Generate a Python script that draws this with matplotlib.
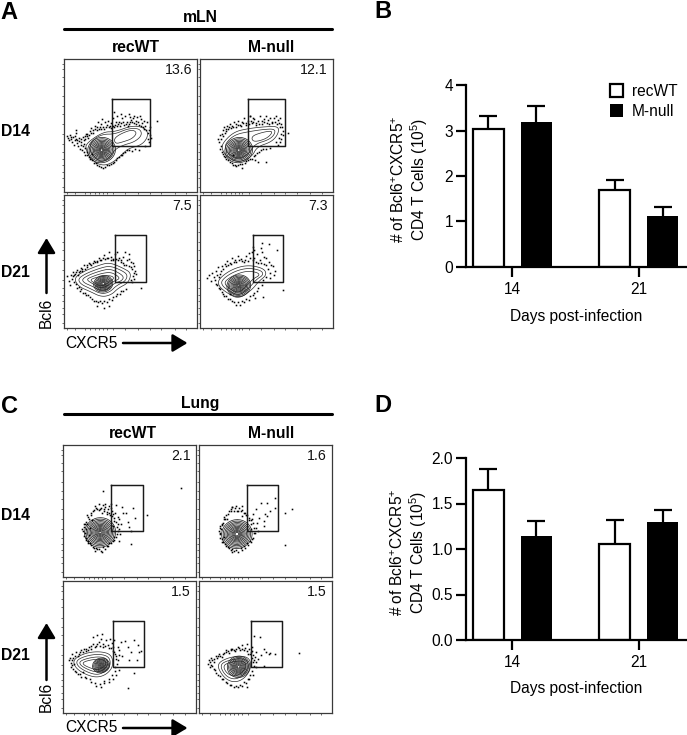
#!/usr/bin/env python3
import numpy as np
import matplotlib
matplotlib.use("Agg")
import matplotlib.pyplot as plt
from matplotlib.patches import Ellipse, FancyArrowPatch, Polygon

plt.rcParams["font.family"] = ["Liberation Sans", "DejaVu Sans"]
plt.rcParams["mathtext.fontset"] = "custom"
plt.rcParams["mathtext.rm"] = "Liberation Sans"
plt.rcParams["mathtext.default"] = "regular"

W, H = 687, 735

# Bar charts, B = mLN, D = lung
DAYS = ["14", "21"]
B_WT = [3.03, 1.70]
B_WT_ERR = [0.30, 0.22]
B_NULL = [3.18, 1.12]
B_NULL_ERR = [0.36, 0.20]
D_WT = [1.645, 1.05]
D_WT_ERR = [0.235, 0.27]
D_NULL = [1.147, 1.293]
D_NULL_ERR = [0.163, 0.137]

# Flow plots: channel units 0-400 on both axes, y counted from the top
TICKS_X = [8, 33, 63, 78, 93, 106, 118, 128, 148, 183, 223, 258, 293, 333, 368]
TICKS_Y = [15, 31, 55, 80, 111, 140, 165, 194, 225, 255, 281, 300, 319, 340, 359, 385]

A11_GATE = (145, 258, 120, 262)
A12_GATE = (146, 258, 120, 262)
A21_GATE = (152, 246, 120, 261)
A22_GATE = (159, 252, 120, 261)
C11_GATE = (146, 240, 121, 262)
C12_GATE = (145, 239, 121, 262)
C21_GATE = (152, 245, 121, 261)
C22_GATE = (156, 250, 121, 261)

A11_OUTLINES = [
    [(66, 254), (118, 219), (153, 219), (208, 199), (248, 209), (253, 234), (233, 259), (193, 269), (173, 289), (143, 314), (113, 321), (83, 304), (66, 274)],
    [(84, 245), (115, 226), (153, 226), (193, 209), (228, 209), (235, 229), (213, 249), (178, 259), (153, 272), (135, 300), (110, 310), (88, 292), (76, 270)],
    [(150, 240), (170, 225), (205, 212), (220, 222), (205, 240), (175, 250), (155, 255)],
]
A12_OUTLINES = [
    [(67, 254), (102, 219), (147, 209), (192, 204), (237, 202), (237, 224), (217, 249), (172, 264), (157, 294), (117, 312), (82, 294), (67, 274)],
    [(78, 252), (106, 227), (150, 218), (190, 212), (226, 210), (226, 226), (208, 243), (165, 256), (148, 285), (117, 302), (88, 288), (76, 270)],
    [(155, 232), (190, 220), (218, 216), (214, 228), (195, 242), (160, 250)],
]
A21_OUTLINES = [
    [(30, 250), (58, 230), (108, 210), (138, 203), (178, 220), (203, 235), (193, 265), (163, 280), (143, 300), (113, 307), (78, 290), (43, 275)],
    [(42, 252), (66, 236), (108, 220), (138, 213), (172, 226), (192, 240), (184, 260), (158, 272), (138, 292), (112, 298), (80, 282), (50, 268)],
    [(54, 253), (76, 240), (110, 228), (138, 222), (165, 234), (180, 246), (174, 258), (150, 266), (132, 284), (110, 288), (84, 274), (60, 264)],
    [(66, 254), (86, 245), (112, 236), (140, 232), (160, 242), (168, 252), (148, 260), (126, 276), (108, 280), (88, 268)],
    [(78, 255), (96, 248), (115, 244), (140, 242), (152, 250), (136, 262), (120, 272), (104, 272), (90, 264)],
]
A22_OUTLINES = [
    [(54, 255), (92, 225), (142, 210), (192, 220), (202, 240), (177, 260), (157, 285), (117, 313), (82, 295), (57, 275)],
    [(65, 256), (98, 232), (142, 219), (184, 226), (192, 240), (170, 254), (150, 278), (117, 304), (86, 288), (66, 272)],
    [(76, 258), (104, 240), (142, 228), (174, 233), (180, 242), (160, 252), (142, 272), (116, 296), (90, 282), (76, 270)],
]
C21_OUTLINES = [
    [(30, 238), (67, 218), (112, 213), (147, 223), (152, 258), (132, 283), (102, 293), (67, 283), (37, 263)],
    [(40, 240), (72, 226), (112, 221), (140, 230), (144, 256), (126, 276), (102, 285), (70, 275), (44, 258)],
    [(50, 243), (78, 233), (112, 229), (134, 236), (136, 254), (122, 270), (102, 277), (74, 268), (52, 255)],
    [(60, 246), (84, 239), (112, 236), (128, 242), (130, 254), (118, 264), (102, 270), (78, 262), (62, 254)],
]
C22_OUTLINES = [
    [(52, 253), (84, 233), (129, 226), (154, 236), (156, 268), (134, 298), (104, 308), (74, 293)],
    [(62, 254), (88, 240), (128, 234), (147, 242), (148, 266), (129, 290), (104, 299), (78, 286)],
    [(72, 256), (94, 246), (126, 241), (140, 248), (141, 264), (124, 282), (105, 290), (82, 279)],
]
C11_OUTLINES = []
C12_OUTLINES = []

# Inner rings as (centre x, centre y, width, height)
A11_RINGS = [(113, 274, w, w * 0.9) for w in (84, 75, 66, 58, 50, 43, 36, 30, 24, 18, 13, 8)]
A12_RINGS = [(117, 274, w, w * 0.9) for w in (84, 75, 66, 58, 50, 43, 36, 30, 24, 18, 13, 8)]
A21_RINGS = [(118, 267, w, w * 0.85) for w in (58, 50, 43, 36, 30, 24, 18, 13, 8)]
A22_RINGS = [(117, 273, w, w * 0.9) for w in (72, 64, 56, 48, 41, 34, 28, 22, 16, 11, 6)]
C11_RINGS = [(112, 265, w, w * 0.95) for w in (94, 85, 76, 68, 60, 52, 45, 38, 31, 25, 19, 13, 7)]
C12_RINGS = [(114, 270, w, w * 0.95) for w in (92, 83, 74, 66, 58, 50, 43, 36, 29, 23, 17, 11)]
C21_RINGS = [(115, 256, w, w * 0.85) for w in (52, 45, 38, 32, 26, 20, 15, 10, 5)]
C22_RINGS = [(119, 260, w, w * 0.95) for w in (68, 60, 52, 45, 38, 32, 26, 20, 14, 8)]

A11_DOTS = [(8,232),(12,238),(18,228),(15,245),(22,240),(28,236),(25,250),(32,245),(30,258),(38,252),(36,240),(42,262),(45,248),(48,270),(50,258),(52,240),(55,275),(58,262),(60,245),(62,232),(65,225),(36,222),(36,215),(72,238),(68,280),(62,268),
            (70,225),(78,218),(82,208),(88,215),(92,200),(98,205),(102,190),(105,212),(110,196),(115,180),(118,204),(122,190),(128,198),(133,185),(138,200),(142,192),(148,176),(150,205),(155,190),(160,170),(163,195),(168,200),(173,178),(178,190),(184,170),(188,188),(194,194),(198,175),(203,182),(208,178),(212,170),(216,186),(220,175),(224,190),(228,172),(232,180),(236,192),(240,185),(244,200),(250,190),(248,215),(254,222),(258,205),(262,238),(255,250),(245,262),(280,186),(195,165),(170,166),(150,160),
            (75,295),(85,305),(95,312),(105,322),(118,328),(128,320),(140,316),(150,310),(160,298),(170,290),(178,282),(190,275),(205,278),(215,272),(225,275),(85,285),(62,290),
            (20,235),(34,232),(40,245),(46,238),(52,250),(56,235),(60,255),(64,240),(68,232),(74,228),(80,222),(86,222),(92,212),(100,214),(108,206),(112,212),(120,212),(126,206),(134,206),(140,208),(146,200),(152,198),(158,200),(166,188),(172,192),(180,198),(186,196),(192,200),(198,190),(204,190),(210,192),(218,195),(226,198),(232,200),(238,205),(242,212),(256,214),(258,230),(254,240),(60,280),(70,290),(78,302),(90,312),(100,318),(112,326),(124,326),(134,320),(146,312),(155,305),(166,295),(174,288),(184,280),(196,274)]
A12_DOTS = [(55,240),(60,230),(58,250),(62,262),(66,225),(70,215),(72,205),(78,212),(83,200),(88,205),(92,195),(98,200),(104,188),(110,196),(115,185),(120,198),(126,190),(132,178),(138,192),(144,185),(150,172),(156,192),(162,180),(168,192),(175,186),(180,172),(186,186),(192,180),(198,170),(204,184),(210,176),(216,188),(222,178),(228,172),(234,184),(240,178),(244,195),(248,205),(250,218),(252,228),(246,240),(240,250),(234,258),(152,170),(160,178),(265,224),(60,270),(66,280),(72,292),(80,300),(90,310),(100,318),(110,322),(122,316),(135,312),(145,305),(158,300),(165,290),(178,280),(190,272),(210,268),(175,310),(198,310),(165,305),(100,290),(128,328),
            (64,240),(68,232),(74,224),(80,218),(86,212),(94,208),(100,206),(108,204),(116,198),(124,200),(130,192),(140,198),(148,194),(154,186),(160,190),(170,198),(178,194),(186,196),(194,190),(202,192),(208,194),(218,192),(226,190),(232,194),(238,192),(242,205),(244,225),(238,238),(228,250),(70,285),(76,296),(86,304),(96,314),(106,320),(116,320),(128,316),(140,308),(150,300),(162,292),(172,284),(184,274),(200,270)]
A21_DOTS = [(10,245),(14,258),(20,240),(24,252),(18,270),(28,232),(34,238),(30,262),(38,225),(44,232),(50,220),(55,228),(60,212),(68,218),(74,205),(82,210),(90,198),(98,202),(104,190),(112,195),(120,180),(128,188),(134,172),(140,185),(146,192),(152,178),(158,170),(165,188),(172,195),(178,185),(184,170),(190,195),(196,192),(202,200),(208,205),(212,215),(215,228),(218,238),(210,252),(205,262),(40,280),(48,290),(58,296),(66,300),(78,308),(90,318),(102,322),(114,325),(130,322),(145,315),(155,305),(168,298),(176,290),(186,284),(232,280),(120,340),(135,335),(100,335),(180,210),(195,178),
            (26,245),(30,240),(36,232),(42,240),(48,230),(54,222),(62,222),(70,212),(78,208),(86,205),(94,200),(100,198),(108,196),(116,190),(124,192),(132,190),(140,194),(148,196),(156,192),(162,196),(170,202),(178,205),(186,210),(194,214),(200,218),(206,224),(210,235),(208,245),(200,256),(36,268),(44,278),(52,284),(62,294),(72,302),(84,312),(96,318),(108,318),(120,318),(136,314),(148,308),(160,298),(170,290)]
A22_DOTS = [(20,250),(26,242),(32,260),(36,235),(42,248),(48,228),(54,218),(60,238),(66,215),(74,208),(82,198),(90,205),(98,190),(106,196),(114,182),(124,192),(132,200),(140,184),(148,175),(156,170),(160,155),(164,188),(172,178),(180,195),(188,172),(192,185),(200,190),(208,200),(214,210),(220,215),(225,228),(222,240),(212,250),(187,145),(207,147),(232,165),(162,165),(185,160),(48,268),(56,280),(66,292),(72,305),(84,312),(96,320),(108,330),(120,330),(134,322),(148,316),(160,302),(172,290),(186,272),(250,285),(190,308),(165,310),(90,298),
            (46,256),(52,240),(56,248),(62,228),(68,222),(78,214),(86,212),(94,208),(102,200),(110,202),(118,196),(128,198),(136,194),(144,198),(152,190),(160,196),(168,200),(176,204),(184,206),(192,208),(200,212),(206,222),(210,235),(200,248),(190,256),(50,270),(60,284),(70,298),(78,304),(90,314),(102,322),(114,322),(126,320),(140,312),(152,304),(164,294),(174,280)]
C11_DOTS = [(122,140),(115,190),(120,182),(128,188),(135,195),(140,185),(148,200),(150,210),(158,205),(160,182),(165,218),(168,225),(100,192),(92,200),(108,198),(118,205),(125,200),(132,210),(142,212),(85,212),(78,225),(72,240),(68,255),(65,268),(70,282),(75,290),(82,298),(90,308),(100,312),(110,315),(122,310),(132,305),(140,298),(150,292),(155,280),(162,270),(170,255),(175,240),(178,188),(190,205),(180,205),(210,190),(218,220),(195,232),(200,248),(205,262),(255,212),(205,300),(355,130),(165,238),(145,180),(88,228),(155,230),(78,272),(80,250),(150,245),(168,290),
            (70,232),(76,218),(84,205),(94,196),(104,194),(112,195),(124,194),(134,202),(140,206),(148,215),(154,222),(160,232),(164,248),(166,262),(160,278),(154,288),(146,298),(136,306),(126,314),(114,320),(104,316),(94,312),(84,304),(76,296),(68,288),(62,276),(60,262),(62,248),(66,238),(72,212),(96,184),(110,180),(128,178),(146,192),(62,240),(58,255),(172,270),(96,320),(118,325)]
C12_DOTS = [(100,187),(108,192),(120,190),(128,198),(138,205),(145,212),(150,220),(160,225),(90,200),(82,212),(75,225),(70,240),(66,255),(64,270),(68,285),(72,295),(80,305),(90,312),(100,315),(112,318),(125,312),(135,305),(145,298),(152,290),(160,285),(165,268),(170,250),(175,235),(118,200),(130,215),(95,195),(155,240),(180,220),(195,230),(205,215),(215,200),(230,192),(185,175),(205,175),(258,205),(280,195),(230,160),(178,260),(162,210),(260,302),(172,195),(195,245),(198,208),(85,225),(75,280),(155,255),
            (72,237),(78,223),(86,210),(96,201),(106,199),(114,200),(126,199),(136,207),(142,211),(150,228),(156,227),(162,237),(166,253),(168,267),(162,283),(156,293),(148,303),(138,311),(128,319),(116,325),(106,321),(96,317),(86,309),(78,301),(70,293),(64,281),(62,267),(64,253),(68,243),(74,217),(98,189),(112,185),(130,185),(64,245),(60,260),(98,325)]
C21_DOTS = [(22,232),(28,222),(18,240),(35,228),(40,215),(32,250),(48,222),(25,262),(55,210),(62,205),(70,212),(78,200),(86,205),(92,190),(100,198),(108,185),(115,175),(122,190),(130,180),(135,195),(142,175),(148,188),(90,170),(102,165),(118,160),(150,200),(155,215),(160,228),(165,240),(170,210),(175,185),(188,182),(195,200),(205,215),(215,180),(225,195),(228,215),(222,238),(235,212),(200,240),(178,228),(35,272),(45,282),(55,290),(70,295),(85,305),(100,318),(115,322),(125,310),(140,305),(150,296),(160,285),(170,270),(215,278),(197,325),(60,275),(155,178),
            (28,240),(24,248),(30,232),(44,226),(52,216),(60,214),(68,206),(76,208),(84,198),(96,200),(104,192),(112,198),(120,200),(128,196),(138,202),(146,204),(152,212),(158,222),(160,236),(162,250),(158,262),(156,274),(148,284),(138,296),(124,302),(112,312),(96,308),(80,298),(66,290),(50,282),(40,276),(30,268),(26,256),(165,200),(170,225)]
C22_DOTS = [(30,240),(36,232),(26,250),(40,258),(32,262),(44,245),(48,270),(55,232),(60,222),(68,230),(74,218),(82,210),(90,218),(100,205),(108,212),(116,200),(122,210),(130,195),(138,202),(145,190),(150,205),(155,215),(160,200),(162,225),(165,168),(182,170),(170,215),(178,235),(185,225),(195,205),(200,215),(212,220),(215,218),(230,222),(165,240),(300,218),(58,285),(68,298),(80,305),(92,315),(104,320),(116,322),(128,318),(140,310),(150,298),(162,285),(172,262),(195,258),(95,205),(145,320),(172,245),(148,222),
            (34,246),(38,240),(46,236),(50,228),(58,226),(64,226),(72,222),(80,216),(88,212),(96,210),(104,208),(112,206),(120,204),(128,206),(136,210),(144,212),(152,222),(158,232),(162,245),(164,258),(160,272),(154,285),(146,296),(136,306),(124,314),(110,318),(96,314),(84,308),(72,296),(62,288),(52,278),(44,266),(36,256),(158,212),(168,230)]

A11_LABEL, A12_LABEL, A21_LABEL, A22_LABEL = "13.6", "12.1", "7.5", "7.3"
C11_LABEL, C12_LABEL, C21_LABEL, C22_LABEL = "2.1", "1.6", "1.5", "1.5"


def axes_px(fig, x0, y0, x1, y1):
    # pixel box, y from the top of the image
    return fig.add_axes([x0 / W, 1 - y1 / H, (x1 - x0) / W, (y1 - y0) / H])


def smooth(points, rounds=3):
    # corner cutting so the typed outlines look like contour lines
    p = np.array(points, dtype=float)
    for _ in range(rounds):
        q = np.roll(p, -1, axis=0)
        p = np.column_stack([0.75 * p + 0.25 * q, 0.25 * p + 0.75 * q]).reshape(-1, 2)
    return p


def flow_panel(fig, box, gate, outlines, rings, dots, label):
    ax = axes_px(fig, *box)
    ax.set_xlim(0, 400)
    ax.set_ylim(400, 0)
    ax.set_xticks(TICKS_X)
    ax.set_yticks(TICKS_Y)
    ax.set_xticklabels([])
    ax.set_yticklabels([])
    ax.tick_params(length=1.5, width=0.5, color="#333333", pad=1)
    for spine in ax.spines.values():
        spine.set_linewidth(0.9)
        spine.set_color("#3a3a3a")

    xs, ys = zip(*dots)
    ax.plot(xs, ys, ls="none", marker="s", ms=1.15, mew=0, color="black")
    for outline in outlines:
        ax.add_patch(Polygon(smooth(outline), closed=True, fill=False, ec="#2a2a2a", lw=0.5))
    for cx, cy, w, h in rings:
        ax.add_patch(Ellipse((cx, cy), w, h, angle=-15, fill=False, ec="#222222", lw=0.55))

    x0, x1, y0, y1 = gate
    ax.plot([x0, x1, x1, x0, x0], [y0, y0, y1, y1, y0], color="#1a1a1a", lw=1.05)
    ax.text(385, 33, label, ha="right", va="center", fontsize=10.2, color="#111111")
    return ax


def bar_panel(fig, box, wt, wt_err, null, null_err, ymax, yticks, yfmt, legend=False):
    ax = axes_px(fig, *box)
    pos = np.arange(len(DAYS))
    zeros = [0, 0]
    lw = 1.6
    for x, vals, errs in [(pos - 0.19, wt, wt_err), (pos + 0.19, null, null_err)]:
        _, caps, _ = ax.errorbar(x, vals, yerr=[zeros, errs], ls="none", color="black",
                                 elinewidth=lw, capsize=6.2, capthick=lw, zorder=1)
        caps[0].set_visible(False)
    h1 = ax.bar(pos - 0.19, wt, 0.25, color="white", edgecolor="black", linewidth=lw, zorder=2, label="recWT")
    h2 = ax.bar(pos + 0.19, null, 0.25, color="black", edgecolor="black", linewidth=0, zorder=2, label="M-null")

    ax.set_xlim(-0.369, 1.38)
    ax.set_ylim(0, ymax)
    ax.set_xticks(pos)
    ax.set_xticklabels(DAYS)
    ax.set_yticks(yticks)
    ax.set_yticklabels([yfmt.format(v) for v in yticks])
    ax.tick_params(axis="both", length=7, width=lw, labelsize=11.2, pad=2)
    ax.tick_params(axis="x", pad=4)
    ax.spines["top"].set_visible(False)
    ax.spines["right"].set_visible(False)
    ax.spines["left"].set_linewidth(lw)
    ax.spines["bottom"].set_linewidth(lw)
    if legend:
        ax.legend(handles=[h1, h2], loc="upper left", bbox_to_anchor=(0.651, 1.006),
                  frameon=False, fontsize=11.2, handlelength=0.88, handleheight=0.88,
                  handletextpad=0.55, labelspacing=0.32, borderaxespad=0, borderpad=0)
    return ax


def main():
    fig = plt.figure(figsize=(W / 100, H / 100), dpi=100)

    flow_panel(fig, (64, 59, 197, 192), A11_GATE, A11_OUTLINES, A11_RINGS, A11_DOTS, A11_LABEL)
    flow_panel(fig, (200, 59, 332.5, 192), A12_GATE, A12_OUTLINES, A12_RINGS, A12_DOTS, A12_LABEL)
    flow_panel(fig, (64, 195, 197, 328), A21_GATE, A21_OUTLINES, A21_RINGS, A21_DOTS, A21_LABEL)
    flow_panel(fig, (200, 195, 332.5, 328), A22_GATE, A22_OUTLINES, A22_RINGS, A22_DOTS, A22_LABEL)
    flow_panel(fig, (63, 445, 195.5, 577), C11_GATE, C11_OUTLINES, C11_RINGS, C11_DOTS, C11_LABEL)
    flow_panel(fig, (199, 445, 332, 577), C12_GATE, C12_OUTLINES, C12_RINGS, C12_DOTS, C12_LABEL)
    flow_panel(fig, (63, 581, 195.5, 713), C21_GATE, C21_OUTLINES, C21_RINGS, C21_DOTS, C21_LABEL)
    flow_panel(fig, (199, 581, 332, 713), C22_GATE, C22_OUTLINES, C22_RINGS, C22_DOTS, C22_LABEL)

    bar_panel(fig, (465.7, 85.3, 686.7, 266.7), B_WT, B_WT_ERR, B_NULL, B_NULL_ERR,
              4, [0, 1, 2, 3, 4], "{:d}", legend=True)
    bar_panel(fig, (465.7, 458, 686.7, 640), D_WT, D_WT_ERR, D_NULL, D_NULL_ERR,
              2.0, [0.0, 0.5, 1.0, 1.5, 2.0], "{:.1f}")

    # overlay in image pixels for the headers, letters and arrows
    top = fig.add_axes([0, 0, 1, 1], zorder=5)
    top.set_xlim(0, W)
    top.set_ylim(H, 0)
    top.axis("off")

    for s, x, y in [("A", 0, 12), ("B", 374, 11), ("C", 1, 406), ("D", 374, 405)]:
        top.text(x, y, s, fontsize=17, fontweight="bold", ha="left", va="center")
    for s, x, y in [("mLN", 200, 17), ("recWT", 136, 47), ("M-null", 270.7, 47),
                    ("Lung", 200, 403), ("recWT", 133, 433), ("M-null", 270.7, 433)]:
        top.text(x, y, s, fontsize=11.3, fontweight="bold", ha="center", va="center")
    for s, y in [("D14", 131), ("D21", 272), ("D14", 515), ("D21", 656)]:
        top.text(1, y, s, fontsize=11.3, fontweight="bold", ha="left", va="center")
    for y in (29, 414.3):
        top.plot([64, 332], [y, y], color="black", lw=2.2, solid_capstyle="round")

    for x, y in [(46, 313), (46, 697)]:
        top.text(x, y, "Bcl6", fontsize=11.2, rotation=90, ha="center", va="center")
    for x, y in [(65, 343), (65, 728)]:
        top.text(x, y, "CXCR5", fontsize=11.2, ha="left", va="center")

    arrows = [((46.5, 293), (46.5, 238)), ((46.5, 680), (46.5, 623)),
              ((123, 343), (187.5, 343)), ((123, 728), (187.5, 728))]
    for a, b in arrows:
        top.add_patch(FancyArrowPatch(a, b, arrowstyle="-|>,head_length=0.75,head_width=0.45",
                                      mutation_scale=12, lw=1.8, color="black",
                                      shrinkA=0, shrinkB=0))

    ylab = "# of Bcl6$^{+}$CXCR5$^{+}$\nCD4 T Cells (10$^{5}$)"
    top.text(410, 179, ylab, fontsize=11.2, rotation=90, ha="center", va="center",
             multialignment="center", linespacing=1.1)
    top.text(409, 552, ylab, fontsize=11.2, rotation=90, ha="center", va="center",
             multialignment="center", linespacing=1.1)
    top.text(576, 316, "Days post-infection", fontsize=11.2, ha="center", va="center")
    top.text(576, 689, "Days post-infection", fontsize=11.2, ha="center", va="center")

    fig.savefig("out.png", dpi=100)


if __name__ == "__main__":
    main()
